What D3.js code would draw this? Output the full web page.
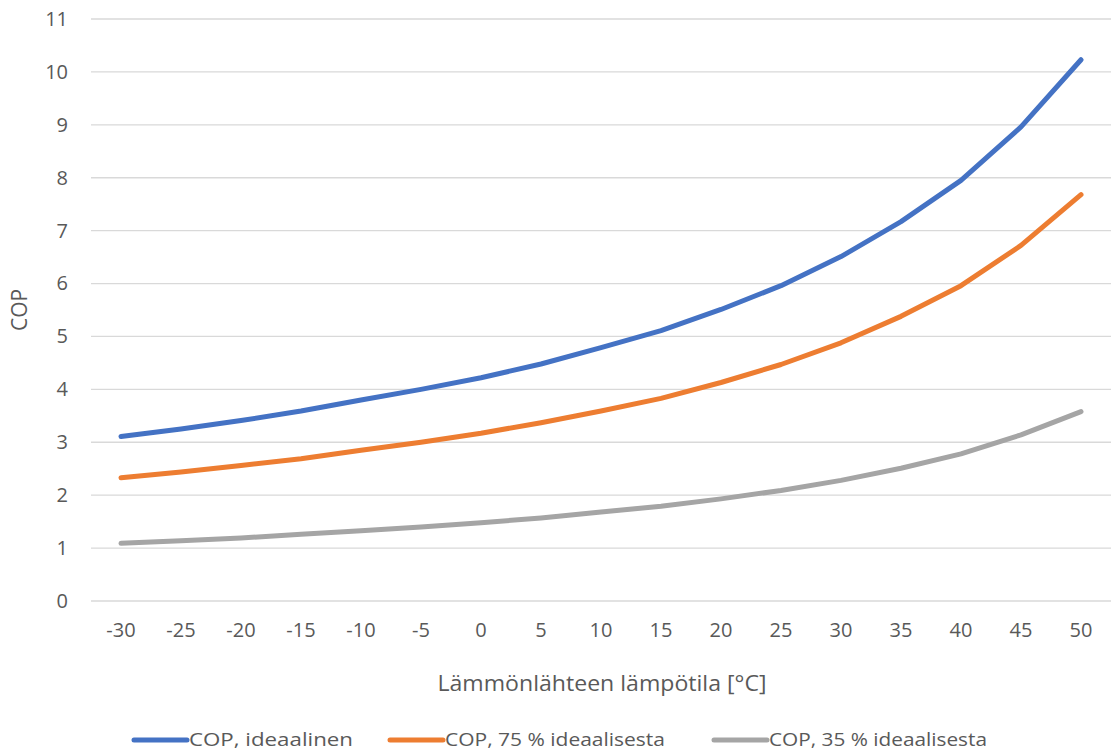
<!DOCTYPE html>
<html>
<head>
<meta charset="utf-8">
<script src="https://cdn.jsdelivr.net/npm/d3@7"></script>
<style>
  html, body { margin: 0; padding: 0; background: #fff; }
  svg { display: block; font-family: "Open Sans", "Noto Sans", sans-serif; }
</style>
</head>
<body>
<svg id="chart" width="1111" height="753"></svg>
<script>
// Heat source temperature (°C) on the category axis
const temperatures = [-30, -25, -20, -15, -10, -5, 0, 5, 10, 15, 20, 25, 30, 35, 40, 45, 50];

// COP series
const copIdeal = [3.11, 3.25, 3.41, 3.59, 3.80, 4.00, 4.22, 4.48, 4.79, 5.11, 5.51, 5.96, 6.51, 7.17, 7.95, 8.96, 10.23];
const cop75 = [2.33, 2.44, 2.56, 2.69, 2.85, 3.00, 3.17, 3.37, 3.59, 3.83, 4.13, 4.47, 4.88, 5.38, 5.96, 6.72, 7.68];
const cop35 = [1.09, 1.14, 1.19, 1.26, 1.33, 1.40, 1.48, 1.57, 1.68, 1.79, 1.93, 2.09, 2.28, 2.51, 2.78, 3.14, 3.58];

const yTicks = [0, 1, 2, 3, 4, 5, 6, 7, 8, 9, 10, 11];

const seriesNames = ["COP, ideaalinen", "COP, 75 % ideaalisesta", "COP, 35 % ideaalisesta"];
const seriesColors = ["#4472C4", "#ED7D31", "#A5A5A5"];
const seriesValues = [copIdeal, cop75, cop35];

const svg = d3.select("#chart");
const plot = { left: 91, right: 1111, top: 19, bottom: 601 };

const x = d3.scaleBand()
  .domain(temperatures)
  .range([plot.left, plot.right]);

const y = d3.scaleLinear()
  .domain([0, 11])
  .range([plot.bottom, plot.top]);

const textColor = "#595959";

// Horizontal gridlines
svg.append("g")
  .selectAll("line")
  .data(yTicks)
  .join("line")
  .attr("x1", plot.left)
  .attr("x2", plot.right)
  .attr("y1", d => y(d))
  .attr("y2", d => y(d))
  .attr("stroke", "#D9D9D9")
  .attr("stroke-width", 1.3);

// Y axis labels
const yAxis = svg.append("g")
  .attr("transform", `translate(${plot.left - 23},0)`)
  .call(d3.axisLeft(y).tickValues(yTicks).tickSize(0).tickPadding(0));
yAxis.select(".domain").remove();
yAxis.selectAll("text")
  .attr("fill", textColor)
  .style("font-size", "20px")
  .style("font-family", "'Open Sans', sans-serif");

// X axis labels
const xAxis = svg.append("g")
  .attr("transform", `translate(0,${plot.bottom})`)
  .call(d3.axisBottom(x).tickSize(0).tickPadding(22));
xAxis.select(".domain").remove();
xAxis.selectAll("text")
  .attr("fill", textColor)
  .style("font-size", "20px")
  .style("font-family", "'Open Sans', sans-serif");

// Axis titles
svg.append("text")
  .attr("x", 602)
  .attr("y", 691)
  .attr("text-anchor", "middle")
  .attr("fill", textColor)
  .style("font-size", "22px")
  .attr("textLength", 329)
  .attr("lengthAdjust", "spacingAndGlyphs")
  .text("Lämmönlähteen lämpötila [°C]");

svg.append("text")
  .attr("transform", `translate(27,${(plot.top + plot.bottom) / 2}) rotate(-90)`)
  .attr("text-anchor", "middle")
  .attr("fill", textColor)
  .style("font-size", "21px")
  .text("COP");

// Series lines
const line = d3.line()
  .x((d, i) => x(temperatures[i]) + x.bandwidth() / 2)
  .y(d => y(d));

svg.append("g")
  .selectAll("path")
  .data(seriesValues)
  .join("path")
  .attr("d", d => line(d))
  .attr("fill", "none")
  .attr("stroke", (d, i) => seriesColors[i])
  .attr("stroke-width", 5)
  .attr("stroke-linecap", "round")
  .attr("stroke-linejoin", "round");

// Legend
const legendItems = [
  { x: 134, w: 164 },
  { x: 390, w: 220 },
  { x: 714, w: 218 }
];
const legend = svg.append("g");
seriesNames.forEach((name, i) => {
  const it = legendItems[i];
  legend.append("line")
    .attr("x1", it.x)
    .attr("x2", it.x + 53)
    .attr("y1", 740)
    .attr("y2", 740)
    .attr("stroke", seriesColors[i])
    .attr("stroke-width", 5)
    .attr("stroke-linecap", "round");
  legend.append("text")
    .attr("x", it.x + 55)
    .attr("y", 746)
    .attr("fill", textColor)
    .style("font-size", "19px")
    .attr("textLength", it.w)
    .attr("lengthAdjust", "spacingAndGlyphs")
    .text(name);
});
</script>
</body>
</html>
